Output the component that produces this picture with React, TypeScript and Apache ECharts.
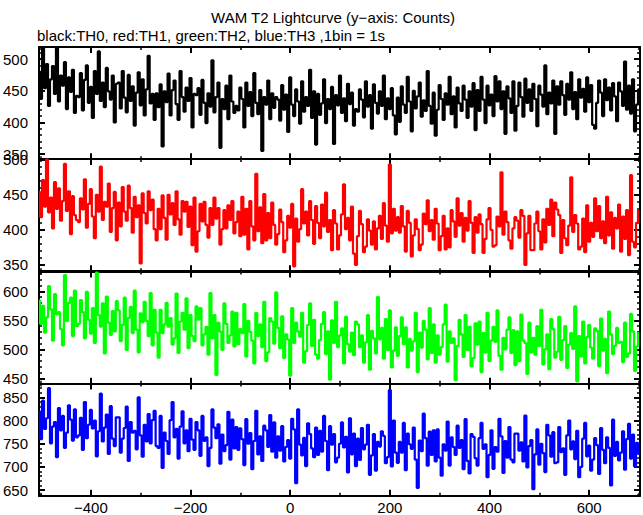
import React, { useEffect, useRef } from "react";
import * as echarts from "echarts";

// time bins (seconds) of the light curve
const BIN_START = -504;
const BIN_STEP = 4;
const X_MIN = -504;
const X_MAX = 702;
const X_MAJOR_TICKS = [-400, -200, 0, 200, 400, 600];
const X_MINOR_TICKS = [-500, -300, -100, 100, 300, 500, 700];

const TITLE = "WAM T2 Lightcurve (y\u2212axis: Counts)";
const SUBTITLE = "black:TH0, red:TH1, green:TH2, blue:TH3 ,1bin = 1s";

// TH0 (black)
const TH0 = [
  480, 437, 518, 454, 492, 426, 468, 489, 445, 522, 433, 474, 458, 495, 421, 471, 448, 483, 415, 442,
  440, 478, 419, 467, 490, 431, 456, 407, 481, 445, 512, 434, 463, 424, 486, 449, 436, 474, 400, 461,
  463, 422, 481, 439, 416, 475, 434, 457, 395, 447, 479, 427, 468, 411, 452, 505, 430, 445, 404, 446,
  424, 460, 362, 449, 432, 477, 411, 451, 466, 429, 404, 481, 440, 417, 455, 434, 470, 392, 445, 443,
  454, 412, 467, 431, 399, 446, 425, 498, 416, 440, 463, 360, 437, 421, 458, 405, 474, 433, 415, 426,
  419, 455, 437, 392, 463, 426, 448, 410, 478, 431, 413, 451, 355, 440, 428, 466, 405, 446, 423, 440,
  436, 403, 459, 420, 444, 385, 471, 428, 410, 452, 433, 398, 465, 417, 440, 426, 483, 407, 449, 365,
  445, 412, 430, 468, 399, 437, 421, 456, 366, 443, 427, 474, 415, 438, 402, 461, 429, 447, 395, 421,
  417, 452, 436, 408, 465, 425, 443, 390, 460, 431, 414, 449, 426, 474, 405, 438, 421, 454, 411, 381,
  439, 401, 457, 428, 415, 472, 433, 386, 450, 422, 441, 463, 409, 435, 418, 481, 426, 398, 447, 379,
  420, 459, 437, 404, 446, 428, 472, 413, 441, 392, 455, 430, 418, 458, 436, 407, 449, 425, 462, 388,
  451, 418, 472, 436, 399, 458, 427, 444, 410, 473, 433, 465, 421, 449, 382, 457, 438, 415, 465, 387,
  426, 463, 440, 409, 469, 431, 452, 418, 461, 437, 394, 458, 444, 425, 490, 413, 447, 430, 466, 382,
  457, 428, 465, 443, 412, 461, 436, 479, 421, 448, 405, 468, 439, 453, 417, 471, 432, 459, 396, 390,
  431, 466, 447, 410, 468, 435, 455, 419, 462, 441, 402, 463, 449, 426, 496, 420, 458, 414, 468, 386,
  428, 452,
];

// TH1 (red)
const TH1 = [
  454, 418, 471, 433, 500, 425, 446, 402, 468, 430, 459, 413, 441, 494, 427, 455, 394, 448, 421, 414,
  411, 445, 429, 472, 403, 437, 458, 419, 388, 450, 426, 490, 414, 440, 433, 466, 397, 431, 454, 385,
  439, 405, 461, 426, 413, 463, 431, 396, 447, 418, 435, 352, 452, 424, 409, 455, 428, 443, 401, 385,
  430, 401, 449, 417, 386, 450, 422, 438, 407, 455, 415, 393, 441, 426, 440, 404, 433, 378, 446, 369,
  398, 437, 412, 440, 407, 389, 431, 407, 446, 416, 431, 379, 401, 428, 402, 435, 414, 441, 395, 411,
  426, 391, 447, 393, 430, 372, 441, 405, 385, 480, 398, 432, 381, 451, 385, 424, 388, 439, 407, 379,
  394, 429, 411, 368, 385, 420, 403, 437, 348, 416, 383, 401, 458, 409, 426, 392, 441, 414, 380, 434,
  410, 388, 436, 405, 453, 397, 414, 371, 428, 409, 372, 392, 422, 465, 401, 417, 385, 433, 366, 350,
  391, 427, 408, 368, 376, 415, 399, 379, 412, 372, 402, 420, 387, 438, 406, 383, 493, 395, 430, 399,
  418, 396, 434, 405, 369, 427, 410, 362, 392, 415, 401, 371, 379, 423, 408, 442, 398, 414, 386, 430,
  409, 371, 391, 420, 372, 402, 375, 428, 412, 390, 445, 406, 424, 383, 417, 399, 441, 410, 367, 418,
  396, 422, 408, 367, 387, 415, 431, 400, 376, 378, 419, 405, 482, 393, 426, 411, 385, 373, 402, 418,
  413, 389, 428, 420, 350, 395, 420, 371, 371, 409, 426, 398, 372, 415, 382, 430, 407, 443, 391, 439,
  429, 421, 367, 414, 388, 378, 406, 475, 397, 421, 409, 372, 376, 416, 368, 435, 383, 410, 390, 445,
  398, 434, 388, 412, 381, 447, 392, 425, 373, 417, 402, 436, 369, 419, 387, 428, 364, 478, 383, 375,
  410, 428,
];

// TH2 (green)
const TH2 = [
  584, 544, 575, 529, 555, 609, 569, 515, 595, 560, 564, 535, 507, 628, 549, 580, 589, 523, 601, 540,
  544, 585, 564, 519, 599, 551, 527, 571, 511, 632, 559, 539, 579, 493, 591, 546, 525, 566, 531, 583,
  567, 514, 542, 589, 499, 554, 573, 528, 601, 534, 495, 562, 547, 582, 549, 523, 597, 507, 568, 529,
  486, 568, 528, 543, 580, 539, 554, 508, 519, 596, 494, 548, 563, 534, 588, 502, 559, 523, 514, 574,
  551, 571, 507, 526, 539, 491, 597, 519, 559, 456, 546, 531, 499, 579, 544, 511, 524, 565, 505, 563,
  509, 535, 528, 578, 488, 549, 530, 515, 476, 563, 523, 543, 504, 582, 480, 495, 554, 548, 510, 598,
  537, 502, 557, 485, 526, 517, 455, 571, 511, 546, 531, 522, 563, 477, 497, 542, 579, 506, 551, 491,
  484, 516, 544, 564, 492, 531, 448, 550, 511, 582, 504, 524, 536, 476, 556, 509, 496, 529, 490, 548,
  543, 504, 524, 477, 512, 559, 465, 532, 519, 493, 590, 517, 537, 484, 552, 499, 567, 469, 498, 538,
  489, 523, 555, 509, 538, 469, 518, 498, 514, 563, 461, 529, 503, 549, 534, 483, 571, 494, 543, 477,
  524, 491, 504, 543, 577, 479, 531, 511, 519, 447, 506, 551, 526, 487, 559, 499, 539, 471, 485, 545,
  508, 548, 461, 528, 495, 563, 480, 515, 539, 513, 567, 489, 465, 520, 500, 534, 555, 494, 533, 473,
  531, 480, 560, 515, 511, 458, 546, 495, 520, 491, 540, 506, 568, 474, 500, 526, 466, 552, 535, 486,
  496, 556, 482, 516, 540, 468, 508, 528, 501, 574, 445, 523, 488, 548, 476, 521, 542, 503, 484, 536,
  532, 471, 553, 498, 518, 459, 565, 526, 492, 506, 537, 511, 513, 478, 546, 487, 493, 561, 531, 463,
  505, 528,
];

// TH3 (blue)
const TH3 = [
  820, 760, 843, 782, 805, 870, 751, 787, 797, 721, 827, 779, 810, 741, 774, 833, 802, 757, 824, 764,
  768, 806, 737, 840, 762, 791, 823, 783, 800, 723, 777, 858, 755, 785, 813, 728, 831, 761, 745, 807,
  807, 731, 761, 784, 830, 713, 797, 774, 778, 738, 850, 768, 722, 791, 755, 814, 751, 801, 821, 745,
  741, 810, 698, 774, 756, 728, 801, 840, 764, 782, 718, 787, 820, 751, 779, 734, 804, 759, 737, 797,
  779, 724, 810, 756, 764, 702, 741, 824, 785, 762, 792, 707, 770, 734, 747, 819, 716, 802, 740, 786,
  737, 783, 760, 704, 803, 750, 773, 695, 756, 821, 727, 766, 713, 789, 779, 743, 812, 733, 796, 720,
  766, 735, 788, 712, 743, 758, 718, 804, 781, 665, 824, 748, 725, 763, 702, 794, 771, 740, 721, 785,
  726, 778, 733, 810, 756, 693, 788, 748, 771, 710, 720, 750, 796, 742, 765, 688, 805, 727, 772, 702,
  761, 715, 784, 738, 748, 791, 683, 725, 771, 692, 754, 744, 777, 767, 708, 721, 866, 701, 800, 731,
  709, 754, 731, 795, 693, 772, 749, 739, 785, 716, 655, 757, 734, 815, 762, 703, 776, 726, 779, 712,
  781, 720, 681, 749, 735, 798, 703, 764, 743, 726, 789, 741, 758, 695, 803, 713, 686, 771, 765, 719,
  703, 762, 795, 739, 749, 678, 726, 779, 696, 743, 733, 804, 766, 687, 756, 720, 786, 716, 710, 772,
  772, 735, 753, 712, 811, 699, 745, 758, 652, 727, 781, 705, 750, 730, 689, 791, 768, 722, 775, 708,
  710, 786, 732, 740, 683, 768, 800, 738, 755, 717, 778, 678, 700, 761, 795, 723, 746, 692, 716, 762,
  747, 685, 784, 737, 708, 764, 741, 660, 802, 724, 754, 714, 731, 777, 694, 760, 793, 718, 770, 701,
  752, 728,
];

const PANEL_NAMES = ["TH0", "TH1", "TH2", "TH3"];
const PANEL_DATA = [TH0, TH1, TH2, TH3];
const PANEL_COLORS = ["#000000", "#ff0000", "#00ff00", "#0000ff"];
const PANEL_Y_MIN = [342, 341, 441, 638];
const PANEL_Y_MAX = [519, 501, 634, 880];
const PANEL_Y_LABELS = [
  [350, 400, 450, 500],
  [350, 400, 450, 500],
  [450, 500, 550, 600],
  [650, 700, 750, 800, 850],
];

const GRID_LEFT = 37;
const GRID_WIDTH = 603;
const GRID_TOPS = [47, 159, 271.5, 383.5];
const GRID_HEIGHT = 112.2;

const FONT = "'Liberation Sans', Arial, Helvetica, sans-serif";
const AXIS_COLOR = "#000000";

function minorValues(min: number, max: number, step: number): number[] {
  const out: number[] = [];
  for (let v = Math.ceil(min / step) * step; v <= max; v += step) out.push(v);
  return out;
}

function fmt(v: number): string {
  return String(v).replace("-", "\u2212");
}

function buildOption() {
  const grid: any[] = [];
  const xAxis: any[] = [];
  const yAxis: any[] = [];
  const series: any[] = [];

  for (let g = 0; g < 4; g++) {
    grid.push({
      left: GRID_LEFT,
      top: GRID_TOPS[g],
      width: GRID_WIDTH,
      height: GRID_HEIGHT,
      containLabel: false,
    });
    const isLast = g === 3;
    const xBase = {
      type: "value",
      gridIndex: g,
      min: X_MIN,
      max: X_MAX,
      splitLine: { show: false },
    };
    xAxis.push({
      ...xBase,
      position: "bottom",
      axisLine: { show: true, onZero: false, lineStyle: { color: AXIS_COLOR, width: 2 } },
      axisTick: {
        show: true,
        inside: true,
        length: 6,
        customValues: X_MAJOR_TICKS,
        lineStyle: { color: AXIS_COLOR, width: 2 },
      },
      axisLabel: {
        show: isLast,
        customValues: X_MAJOR_TICKS,
        formatter: (v: number) => fmt(v),
        color: "#000",
        fontFamily: FONT,
        fontSize: 15,
        margin: 4,
      },
    });
    xAxis.push({
      ...xBase,
      position: "bottom",
      axisLine: { show: false, onZero: false },
      axisTick: {
        show: true,
        inside: true,
        length: 3,
        customValues: X_MINOR_TICKS,
        lineStyle: { color: AXIS_COLOR, width: 1.5 },
      },
      axisLabel: { show: false },
    });
    xAxis.push({
      ...xBase,
      position: "top",
      axisLine: { show: true, onZero: false, lineStyle: { color: AXIS_COLOR, width: 2 } },
      axisTick: {
        show: true,
        inside: true,
        length: 6,
        customValues: X_MAJOR_TICKS,
        lineStyle: { color: AXIS_COLOR, width: 2 },
      },
      axisLabel: { show: false },
    });
    xAxis.push({
      ...xBase,
      position: "top",
      axisLine: { show: false, onZero: false },
      axisTick: {
        show: true,
        inside: true,
        length: 3,
        customValues: X_MINOR_TICKS,
        lineStyle: { color: AXIS_COLOR, width: 1.5 },
      },
      axisLabel: { show: false },
    });

    const yMin = PANEL_Y_MIN[g];
    const yMax = PANEL_Y_MAX[g];
    const yMajor = PANEL_Y_LABELS[g];
    const yMinor = minorValues(yMin, yMax, 10);
    const yBase = {
      type: "value",
      gridIndex: g,
      min: yMin,
      max: yMax,
      splitLine: { show: false },
    };
    ["left", "right"].forEach((pos) => {
      yAxis.push({
        ...yBase,
        position: pos,
        axisLine: { show: true, onZero: false, lineStyle: { color: AXIS_COLOR, width: 2 } },
        axisTick: {
          show: true,
          inside: true,
          length: 6,
          customValues: yMajor,
          lineStyle: { color: AXIS_COLOR, width: 2 },
        },
        axisLabel: {
          show: pos === "left",
          customValues: yMajor,
          color: "#000",
          fontFamily: FONT,
          fontSize: 15,
          margin: 11,
        },
      });
      yAxis.push({
        ...yBase,
        position: pos,
        axisLine: { show: false, onZero: false },
        axisTick: {
          show: true,
          inside: true,
          length: 3,
          customValues: yMinor,
          lineStyle: { color: AXIS_COLOR, width: 1.5 },
        },
        axisLabel: { show: false },
      });
    });

    series.push({
      name: PANEL_NAMES[g],
      type: "line",
      xAxisIndex: g * 4,
      yAxisIndex: g * 4,
      step: "middle",
      showSymbol: false,
      symbol: "none",
      clip: true,
      lineStyle: { color: PANEL_COLORS[g], width: 2.2 },
      itemStyle: { color: PANEL_COLORS[g] },
      data: PANEL_DATA[g].map((v, i) => [BIN_START + i * BIN_STEP, v]),
      z: 1,
    });
  }

  return {
    animation: false,
    backgroundColor: "#ffffff",
    grid,
    xAxis,
    yAxis,
    series,
    graphic: [
      {
        type: "text",
        x: 333,
        y: 17,
        style: {
          text: TITLE,
          fill: "#000",
          font: `15px ${FONT}`,
          textAlign: "center",
          textVerticalAlign: "middle",
        },
      },
      {
        type: "text",
        x: 37,
        y: 35,
        style: {
          text: SUBTITLE,
          fill: "#000",
          font: `15px ${FONT}`,
          textAlign: "left",
          textVerticalAlign: "middle",
        },
      },
    ],
  };
}

export default function App() {
  const ref = useRef<HTMLDivElement>(null);
  useEffect(() => {
    if (!ref.current) return;
    const chart = echarts.init(ref.current, undefined, { renderer: "svg" });
    chart.setOption(buildOption() as any);
    return () => chart.dispose();
  }, []);
  return (
    <div
      ref={ref}
      style={{ position: "fixed", left: 0, top: 0, width: 643, height: 515, background: "#fff" }}
    />
  );
}
